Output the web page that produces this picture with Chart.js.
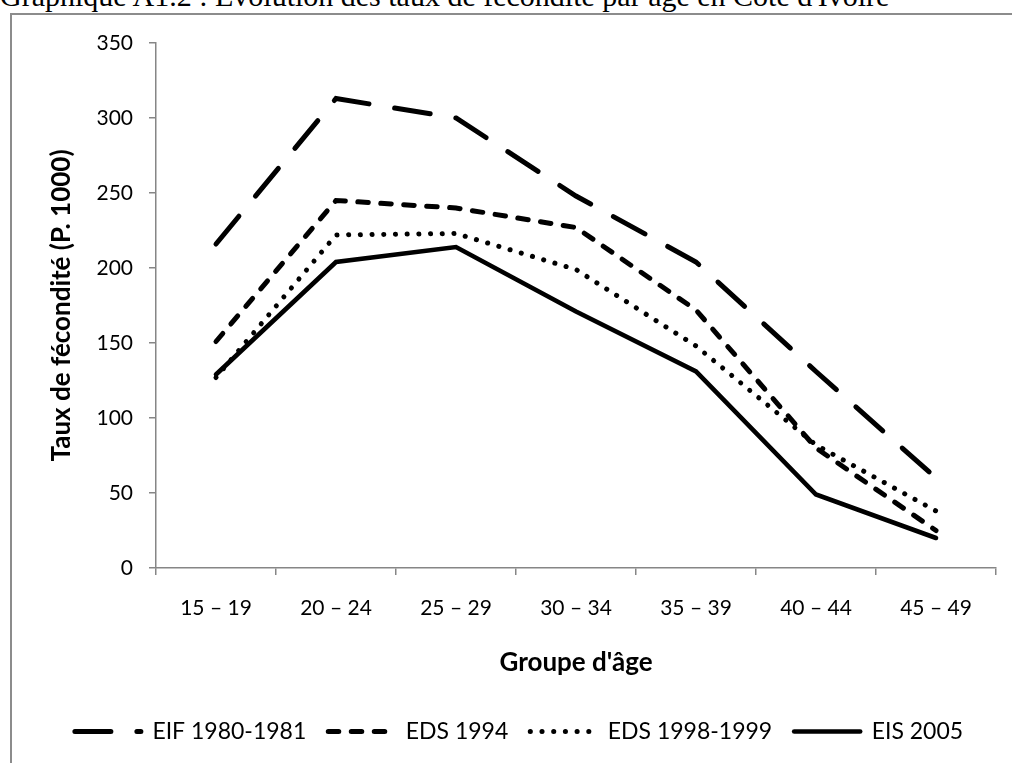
<!DOCTYPE html>
<html lang="fr">
<head>
<meta charset="utf-8">
<title>Taux de fécondité par âge en Côte d'Ivoire</title>
<script src="https://cdn.jsdelivr.net/npm/chart.js@4.4.1/dist/chart.umd.min.js"></script>
<style>
  html, body { margin: 0; padding: 0; background: #fff; overflow: hidden; }
  #page { position: relative; width: 1012px; height: 763px; overflow: hidden; background: #fff; }
  #caption {
    position: absolute; left: 0; top: -19px;
    font-family: "Liberation Serif", "Times New Roman", serif;
    font-size: 30px; line-height: 30px; white-space: nowrap; color: #000;
  }
  #frame {
    position: absolute; left: 10px; top: 13px; width: 1100px; height: 900px;
    border: 2px solid #8c8c8c; box-sizing: border-box;
  }
  #chart { position: absolute; left: 0; top: 0; }
</style>
</head>
<body>
<div id="page">
  <div id="caption">Graphique A1.2 : Évolution des taux de fécondité par âge en Côte d'Ivoire</div>
  <div id="frame"></div>
  <canvas id="chart" width="1012" height="763"></canvas>
</div>
<script>
// Age groups (x categories)
const groupesAge = ['15 – 19', '20 – 24', '25 – 29', '30 – 34', '35 – 39', '40 – 44', '45 – 49'];

// Age-specific fertility rates, per 1000 women
const eif1980 = [216, 313, 300, 248, 204, 131, 60];
const eds1994 = [151, 245, 240, 227, 172, 80, 25];
const eds1998 = [127, 222, 223, 199, 148, 82, 38];
const eis2005 = [129, 204, 214, 171, 131, 49, 20];

// Survey names shown in the legend
const nomsEnquetes = ['EIF 1980-1981', 'EDS 1994', 'EDS 1998-1999', 'EIS 2005'];

// Value axis range
const yMin = 0;
const yMax = 350;
const yStep = 50;

const axisGray = '#868686';
const ink = '#000000';
const fontFamily = 'Lato, "Open Sans", "DejaVu Sans", sans-serif';
const tickFont = { family: fontFamily, size: 21 };
const legendFont = { family: fontFamily, size: 23 };
const titleFont = { family: fontFamily, size: 26, weight: 'bold' };

function serie(label, data, dash, width) {
  return {
    label: label,
    data: data,
    borderColor: ink,
    backgroundColor: ink,
    borderWidth: width,
    borderDash: dash,
    borderCapStyle: 'round',
    borderJoinStyle: 'miter',
    pointRadius: 0,
    pointHoverRadius: 0,
    tension: 0,
    fill: false
  };
}

// Legend samples reuse each dataset's own line style (dash, cap, width)
function legendLabels(chart) {
  const items = Chart.defaults.plugins.legend.labels.generateLabels(chart);
  items.forEach(function (item) {
    const ds = chart.data.datasets[item.datasetIndex];
    item.pointStyle = 'line';
    item.lineDash = ds.borderDash;
    item.lineCap = ds.borderCapStyle;
    item.lineWidth = ds.borderWidth;
    item.strokeStyle = ds.borderColor;
    item.fillStyle = ds.borderColor;
  });
  return items;
}

new Chart(document.getElementById('chart'), {
  type: 'line',
  data: {
    labels: groupesAge,
    datasets: [
      serie(nomsEnquetes[0], eif1980, [36, 26], 5),
      serie(nomsEnquetes[1], eds1994, [10.5, 12.5], 5),
      serie(nomsEnquetes[2], eds1998, [0.1, 11.6], 5),
      serie(nomsEnquetes[3], eis2005, [], 4.6)
    ]
  },
  options: {
    responsive: false,
    devicePixelRatio: 1,
    animation: false,
    events: [],
    layout: { padding: { left: 42, right: 16, top: 43, bottom: 10 } },
    plugins: {
      tooltip: { enabled: false },
      title: { display: false },
      legend: {
        display: true,
        position: 'bottom',
        align: 'center',
        labels: {
          usePointStyle: true,
          pointStyle: 'line',
          pointStyleWidth: 66,
          color: ink,
          font: legendFont,
          padding: 22,
          generateLabels: legendLabels
        }
      }
    },
    scales: {
      x: {
        type: 'category',
        offset: true,
        grid: {
          offset: true,
          drawOnChartArea: false,
          drawTicks: true,
          tickLength: 7,
          color: axisGray,
          lineWidth: 1.5
        },
        border: { display: true, color: axisGray, width: 1.5 },
        ticks: { color: ink, font: tickFont, padding: 21, maxRotation: 0, autoSkip: false },
        title: {
          display: true,
          text: "Groupe d'âge",
          color: ink,
          font: titleFont,
          padding: { top: 4, bottom: 20 }
        },
        afterFit: function (scale) { scale.height = 130; }
      },
      y: {
        min: yMin,
        max: yMax,
        grid: {
          drawOnChartArea: false,
          drawTicks: true,
          tickLength: 7,
          color: axisGray,
          lineWidth: 1.5
        },
        border: { display: true, color: axisGray, width: 1.5 },
        ticks: { stepSize: yStep, color: ink, font: tickFont, padding: 16 },
        title: {
          display: true,
          text: 'Taux de fécondité (P. 1000)',
          color: ink,
          font: titleFont,
          padding: { top: 4, bottom: 4 }
        },
        afterFit: function (scale) { scale.width = 114; }
      }
    }
  }
});
</script>
</body>
</html>
